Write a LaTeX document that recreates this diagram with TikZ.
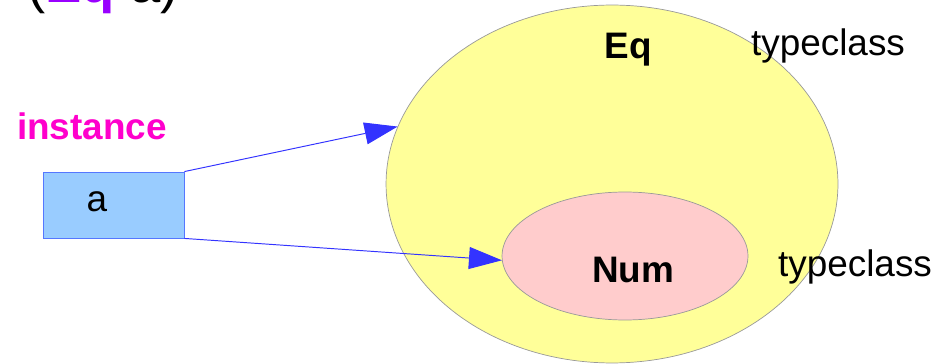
\documentclass[tikz,border=0pt]{standalone}
\usepackage{fontspec}
\setmainfont{Liberation Sans}
\usepackage{xcolor}
\usetikzlibrary{arrows.meta,shapes.geometric}

\definecolor{setyellow}{HTML}{FFFF99}
\definecolor{setpink}{HTML}{FFCCCC}
\definecolor{boxblue}{HTML}{99CCFF}
\definecolor{boxedge}{HTML}{5577FF}
\definecolor{arrowblue}{HTML}{3333FF}
\definecolor{instmag}{HTML}{FF00CC}
\definecolor{eqpurple}{HTML}{9900FF}

\begin{document}
\begin{tikzpicture}[x=0.02cm,y=-0.02cm]
        \tikzset{classset/.style={ellipse, draw=gray!80, line width=0.4pt, inner sep=0pt},
                 inst/.style={-{Triangle[length=0.66cm, width=0.44cm]}, draw=arrowblue, line width=0.55pt},
                 txt/.style={inner sep=0pt, font=\fontsize{21}{25}\selectfont}}
        \useasboundingbox (0,0) rectangle (952,364);
        \clip (0,0) rectangle (952,364);
        % title, cut at the top
        \node[anchor=base west, inner sep=0pt, font=\fontsize{31}{36}\selectfont] (title) at (27,3)
            {(\textcolor{eqpurple}{\textbf{Eq}} a)};

        % the two typeclasses
        \node[classset, fill=setyellow, minimum width=9.04cm, minimum height=7.16cm] (eqset) at (612,184) {};
        \node[classset, fill=setpink, minimum width=4.92cm, minimum height=2.56cm] (numset) at (625,256) {};
        \node[txt, font=\fontsize{21}{25}\selectfont\bfseries] (eqname) at (628,50) {Eq};
        \node[txt, font=\fontsize{21}{25}\selectfont\bfseries] (numname) at (633,270) {Num};
        \node[txt] (eqkind) at (828,46) {typeclass};
        \node[txt] (numkind) at (855,267) {typeclass};

        % the instance a
        \node[txt, font=\fontsize{21}{25}\selectfont\bfseries, text=instmag] (instlabel) at (92,126) {instance};
        \node[draw=boxedge, fill=boxblue, line width=0.5pt, minimum width=2.82cm, minimum height=1.32cm] (abox) at (113.5,205) {};
        \node[txt] (aname) at (97,202) {a};

        \draw[inst] (abox.north east) -- (eqset.165);
        \draw[inst] (abox.south east) -- (numset.182);
\end{tikzpicture}
\end{document}
